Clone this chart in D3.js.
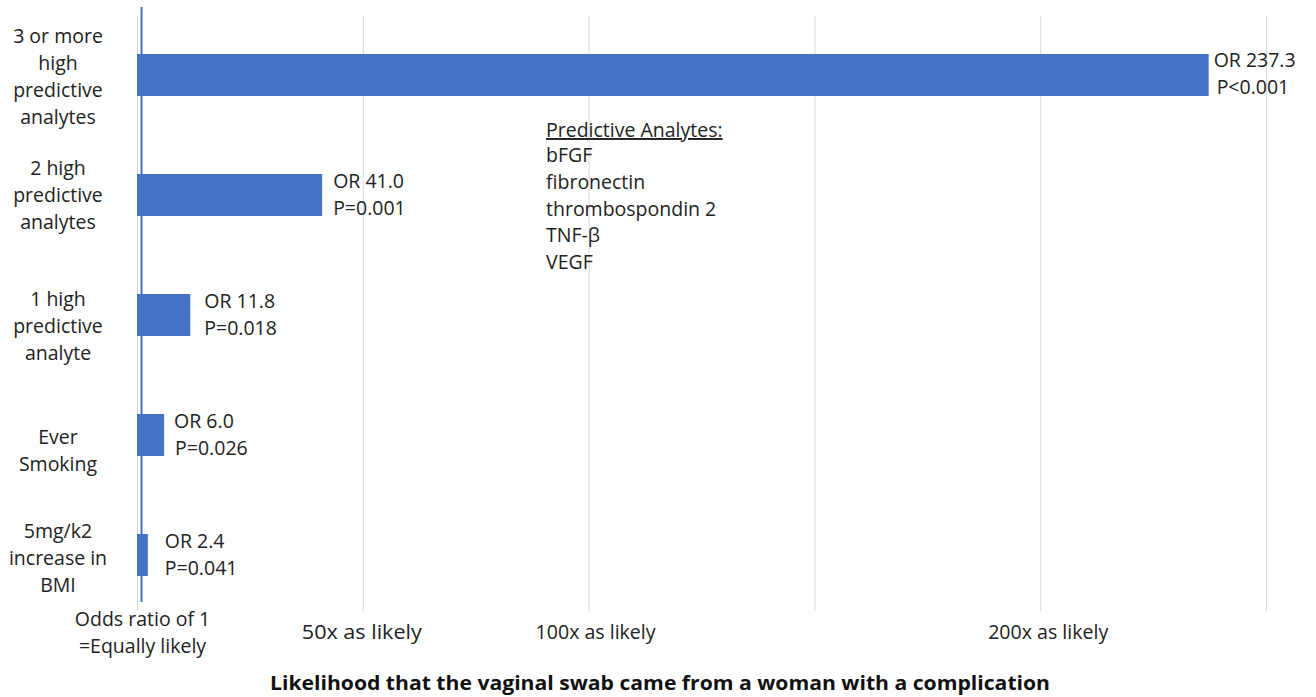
<!DOCTYPE html>
<html>
<head>
<meta charset="utf-8">
<script src="https://cdn.jsdelivr.net/npm/d3@7"></script>
<style>
  html, body { margin: 0; padding: 0; background: #fff; }
  svg { display: block; font-family: "Open Sans", "DejaVu Sans", sans-serif; }
</style>
</head>
<body>
<svg id="chart" width="1316" height="697"></svg>
<script>
// Odds ratios for a complication, by predictor
const categories = [
  "3 or more high predictive analytes",
  "2 high predictive analytes",
  "1 high predictive analyte",
  "Ever Smoking",
  "5mg/k2 increase in BMI"
];
const categoryLines = [
  ["3 or more", "high", "predictive", "analytes"],
  ["2 high", "predictive", "analytes"],
  ["1 high", "predictive", "analyte"],
  ["Ever", "Smoking"],
  ["5mg/k2", "increase in", "BMI"]
];
const oddsRatios = [237.3, 41.0, 11.8, 6.0, 2.4];
const pValues = ["P<0.001", "P=0.001", "P=0.018", "P=0.026", "P=0.041"];

const gridValues = [0, 50, 100, 150, 200, 250];
const tickValues = [1, 50, 100, 200];
const tickLabels = [
  ["Odds ratio of 1", "=Equally likely"],
  ["50x as likely"],
  ["100x as likely"],
  ["200x as likely"]
];
const referenceOdds = 1;

const analyteHeader = "Predictive Analytes:";
const analytes = ["bFGF", "fibronectin", "thrombospondin 2", "TNF-β", "VEGF"];

const axisTitle = "Likelihood that the vaginal swab came from a woman with a complication";

// ---- layout ----
const svg = d3.select("#chart");
const barColor = "#4472C4";
const textColor = "#222";
const fontSize = 19.5;
const plotTop = 16, plotBottom = 611;

const x = d3.scaleLinear().domain([0, 250]).range([137, 1266]);
const y = d3.scaleBand().domain(categories).range([15, 615])
  .paddingInner(0.65).paddingOuter(0.325);

// vertical gridlines
const grid = svg.append("g")
  .attr("transform", `translate(0,${plotBottom})`)
  .call(d3.axisBottom(x).tickValues(gridValues).tickSize(-(plotBottom - plotTop)).tickFormat(""));
grid.select(".domain").remove();
grid.selectAll(".tick line").attr("stroke", "#d9d9d9").attr("stroke-width", 1);

// bars
svg.append("g").selectAll("rect")
  .data(oddsRatios)
  .join("rect")
  .attr("x", x(0))
  .attr("y", (d, i) => y(categories[i]))
  .attr("width", d => x(d) - x(0))
  .attr("height", y.bandwidth())
  .attr("fill", barColor);

// reference line at odds ratio 1
svg.append("line")
  .attr("x1", x(referenceOdds)).attr("x2", x(referenceOdds))
  .attr("y1", 7).attr("y2", 602)
  .attr("stroke", barColor).attr("stroke-width", 2);

// category labels (wrapped, centred on each band)
const catShift = [1, 0, 11, 15, 3];
const catLineH = 27;
svg.append("g").selectAll("text")
  .data(categoryLines)
  .join("text")
  .attr("text-anchor", "middle")
  .attr("fill", textColor)
  .attr("font-size", fontSize)
  .each(function(lines, i) {
    const cy = y(categories[i]) + y.bandwidth() / 2 + catShift[i];
    const top = cy - (lines.length - 1) * catLineH / 2 + 7;
    d3.select(this).selectAll("tspan")
      .data(lines)
      .join("tspan")
      .attr("x", 58)
      .attr("y", (d, k) => top + k * catLineH)
      .text(d => d);
  });

// value labels: odds ratio and p-value, two lines beside each bar end
const labelNudge = [[5, 8], [11, 11], [14, 14], [10, 11], [17, 17]];
const valueLineH = 27;
svg.append("g").selectAll("text")
  .data(oddsRatios)
  .join("text")
  .attr("fill", textColor)
  .attr("font-size", fontSize)
  .each(function(d, i) {
    const cy = y(categories[i]) + y.bandwidth() / 2;
    const base = cy - (i === 0 ? 8 : 7);
    const t = d3.select(this);
    t.append("tspan")
      .attr("x", x(d) + labelNudge[i][0]).attr("y", base)
      .text("OR " + d.toFixed(1));
    t.append("tspan")
      .attr("x", x(d) + labelNudge[i][1]).attr("y", base + valueLineH)
      .text(pValues[i]);
  });

// x tick labels
const tickDx = [1, -1, 7, 8];
svg.append("g").selectAll("text")
  .data(tickValues)
  .join("text")
  .attr("text-anchor", "middle")
  .attr("fill", textColor)
  .attr("font-size", fontSize)
  .each(function(v, i) {
    const lines = tickLabels[i];
    const t = d3.select(this);
    if (lines.length === 1) {
      t.append("tspan").attr("x", x(v) + tickDx[i]).attr("y", 639)
        .attr("textLength", 120).attr("lengthAdjust", "spacingAndGlyphs")
        .text(lines[0]);
    } else {
      t.selectAll("tspan").data(lines).join("tspan")
        .attr("x", x(v) + tickDx[i])
        .attr("y", (d, k) => 626 + k * 27)
        .text(d => d);
    }
  });

// analyte list annotation
const note = svg.append("g").attr("fill", textColor).attr("font-size", fontSize);
note.append("text")
  .attr("x", 546).attr("y", 137)
  .attr("text-decoration", "underline")
  .text(analyteHeader);
note.selectAll("text.item")
  .data(analytes)
  .join("text")
  .attr("class", "item")
  .attr("x", 546)
  .attr("y", (d, i) => 162 + i * 26.8)
  .text(d => d);

// axis title
svg.append("text")
  .attr("x", 660).attr("y", 690)
  .attr("text-anchor", "middle")
  .attr("font-size", 20)
  .attr("font-weight", "bold")
  .attr("fill", "#111")
  .attr("textLength", 780)
  .attr("lengthAdjust", "spacingAndGlyphs")
  .text(axisTitle);
</script>
</body>
</html>
